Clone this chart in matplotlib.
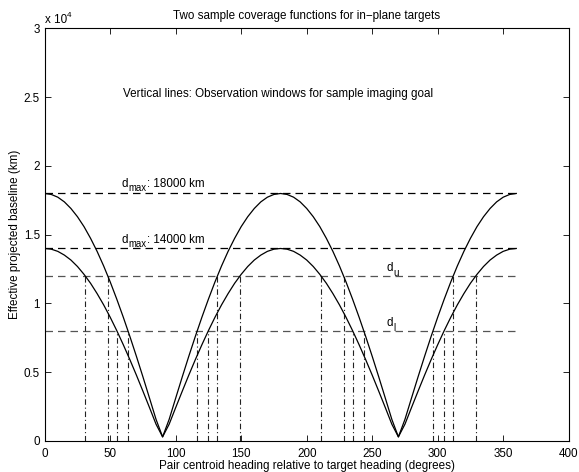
import numpy as np
import matplotlib
matplotlib.use("Agg")
import matplotlib.pyplot as plt

plt.rcParams['font.family'] = ['Liberation Sans', 'DejaVu Sans']

# heading samples (deg) and coverage values (km)
heading = [0, 5, 10, 15, 20, 25, 30, 35, 40, 45, 50, 55, 60, 65, 70, 75, 80, 85, 90,
           95, 100, 105, 110, 115, 120, 125, 130, 135, 140, 145, 150, 155, 160, 165, 170, 175, 180,
           185, 190, 195, 200, 205, 210, 215, 220, 225, 230, 235, 240, 245, 250, 255, 260, 265, 270,
           275, 280, 285, 290, 295, 300, 305, 310, 315, 320, 325, 330, 335, 340, 345, 350, 355, 360]

cover18 = [18000, 17930, 17730, 17390, 16910, 16310, 15590, 14740, 13790, 12730, 11570, 10320, 9000,
           7610, 6160, 4660, 3120, 1570, 300,
           1570, 3120, 4660, 6160, 7610, 9000, 10320, 11570, 12730, 13790, 14740, 15590, 16310, 16910,
           17390, 17730, 17930, 18000,
           17930, 17730, 17390, 16910, 16310, 15590, 14740, 13790, 12730, 11570, 10320, 9000,
           7610, 6160, 4660, 3120, 1570, 300,
           1570, 3120, 4660, 6160, 7610, 9000, 10320, 11570, 12730, 13790, 14740, 15590, 16310, 16910,
           17390, 17730, 17930, 18000]

cover14 = [14000, 13950, 13790, 13520, 13160, 12690, 12120, 11470, 10720, 9900, 9000, 8030, 7000,
           5920, 4790, 3620, 2430, 1220, 300,
           1220, 2430, 3620, 4790, 5920, 7000, 8030, 9000, 9900, 10720, 11470, 12120, 12690, 13160,
           13520, 13790, 13950, 14000,
           13950, 13790, 13520, 13160, 12690, 12120, 11470, 10720, 9900, 9000, 8030, 7000,
           5920, 4790, 3620, 2430, 1220, 300,
           1220, 2430, 3620, 4790, 5920, 7000, 8030, 9000, 9900, 10720, 11470, 12120, 12690, 13160,
           13520, 13790, 13950, 14000]

dmax_levels = [18000, 14000]
goal_levels = [12000, 8000]   # d_u, d_l

# observation window edges and the level each vertical line reaches
window_x = [31, 48.2, 55.2, 63.6, 116.4, 124.8, 131.8, 149,
            211, 228.2, 235.2, 243.6, 296.4, 304.8, 311.8, 329]
window_top = [12000, 12000, 8000, 8000, 8000, 8000, 12000, 12000,
              12000, 12000, 8000, 8000, 8000, 8000, 12000, 12000]

ytick_vals = [0, 5000, 10000, 15000, 20000, 25000, 30000]
ytick_labels = ["0", "0.5", "1", "1.5", "2", "2.5", "3"]

fs = 8.4
subfs = 6.9


def sub_label(ax, x, y, sub, rest=""):
    # "d" with a dropped subscript, then the rest of the text, placed by hand
    ax.text(x, y, "d", fontsize=fs, va="baseline")
    dw = 0.556 * fs
    ax.annotate(sub, (x, y), xytext=(dw, -3.2), textcoords="offset points",
                fontsize=subfs, va="baseline")
    if rest:
        sw = sum({"m": 0.833, "a": 0.556, "x": 0.5}.get(c, 0.5) for c in sub) * subfs
        ax.annotate(rest, (x, y), xytext=(dw + sw, 0), textcoords="offset points",
                    fontsize=fs, va="baseline")


fig = plt.figure(figsize=(5.79, 4.72), dpi=100)
ax = fig.add_axes([0.0772, 0.0657, 0.905, 0.874])

for lev in dmax_levels:
    ax.plot([0, 360], [lev, lev], color="k", lw=0.9, dashes=(6, 4))
for lev in goal_levels:
    ax.plot([0, 360], [lev, lev], color="#555555", lw=0.9, dashes=(6, 4))

for xv, top in zip(window_x, window_top):
    ax.plot([xv, xv], [0, top], color="#222222", lw=0.8, dashes=(5, 2.5, 1, 2.5))

ax.plot(heading, cover18, color="k", lw=0.9)
ax.plot(heading, cover14, color="k", lw=0.9)

ax.text(60, 25250, "Vertical lines: Observation windows for sample imaging goal", fontsize=fs, va="center")
sub_label(ax, 59, 18500, "max", ": 18000 km")
sub_label(ax, 59, 14400, "max", ": 14000 km")
sub_label(ax, 261, 12350, "u")
sub_label(ax, 261, 8350, "l")

ax.set_xlim(0, 400)
ax.set_ylim(0, 30000)
ax.set_xticks(np.arange(0, 401, 50))
ax.set_yticks(ytick_vals)
ax.set_yticklabels(ytick_labels)
ax.tick_params(direction="in", top=True, right=True, labelsize=fs, length=4, width=0.6)
ax.tick_params(axis="x", pad=5)
for sp in ax.spines.values():
    sp.set_linewidth(0.8)

ax.text(0, 1.005, "x 10", transform=ax.transAxes, fontsize=fs, va="bottom")
ax.annotate("4", (0, 1.005), xycoords="axes fraction", xytext=(16.2, 5.5), textcoords="offset points",
            fontsize=subfs - 1, va="bottom")
ax.set_title("Two sample coverage functions for in\u2212plane targets", fontsize=fs, pad=7)
ax.set_xlabel("Pair centroid heading relative to target heading (degrees)", fontsize=fs, labelpad=0)
ax.set_ylabel("Effective projected baseline (km)", fontsize=fs, labelpad=2)

fig.savefig("out.png", dpi=100)
